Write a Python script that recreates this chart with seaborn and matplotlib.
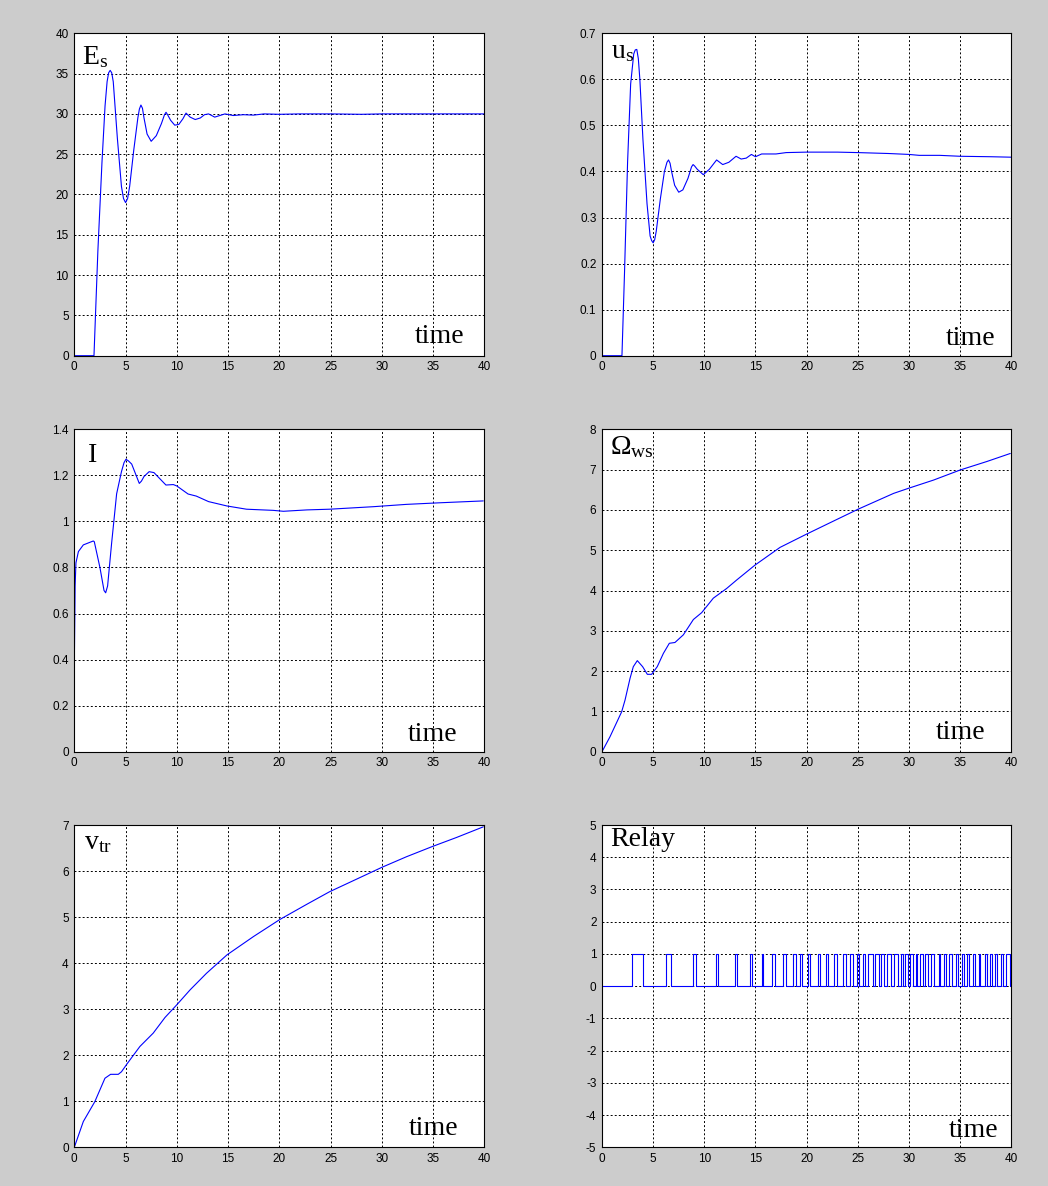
import matplotlib
matplotlib.use('Agg')
import matplotlib.pyplot as plt
import seaborn as sns
from matplotlib.ticker import FuncFormatter

# --- data (time in s) ---
es_t = [0, 1.92, 2.3, 2.7, 3.0, 3.2, 3.35, 3.5, 3.65, 3.8, 4.2, 4.6, 4.8, 5.0, 5.2, 5.4, 5.8, 6.2,
        6.35, 6.5, 6.65, 6.8, 7.1, 7.5, 8.0, 8.5, 8.8, 8.95, 9.1, 9.4, 9.8, 10.2, 10.6, 10.9, 11.3,
        11.8, 12.3, 12.7, 13.1, 13.7, 14.2, 14.7, 15.5, 16.5, 17.5, 18.5, 20, 22, 25, 28, 30, 40]
es_v = [0, 0, 13, 24, 31, 34, 35.1, 35.4, 35.1, 34, 27, 21, 19.5, 19, 19.5, 21, 25.5, 29.5,
        30.6, 31.1, 30.7, 29.5, 27.5, 26.6, 27.3, 28.8, 29.9, 30.2, 29.9, 29.2, 28.6, 28.7, 29.4,
        30.1, 29.6, 29.3, 29.5, 29.9, 30.0, 29.6, 29.8, 30.0, 29.8, 29.9, 29.85, 30, 29.95, 30, 30,
        29.95, 30, 30]

us_t = [0, 1.95, 2.2, 2.5, 2.8, 3.1, 3.25, 3.4, 3.55, 3.7, 4.0, 4.4, 4.7, 4.85, 5.0, 5.15, 5.3,
        5.7, 6.1, 6.35, 6.5, 6.65, 6.8, 7.1, 7.5, 7.9, 8.4, 8.75, 8.9, 9.05, 9.3, 9.9, 10.5, 11.2,
        11.8, 12.4, 13.1, 13.6, 14.1, 14.6, 15.0, 15.6, 17, 18, 20, 23, 25, 28, 30, 31, 33, 35, 38, 40]
us_v = [0, 0, 0.18, 0.42, 0.59, 0.655, 0.664, 0.665, 0.645, 0.6, 0.47, 0.33, 0.26, 0.25, 0.245,
        0.252, 0.27, 0.34, 0.4, 0.42, 0.425, 0.418, 0.4, 0.37, 0.355, 0.36, 0.385, 0.41, 0.415,
        0.412, 0.405, 0.393, 0.405, 0.425, 0.415, 0.42, 0.433, 0.427, 0.429, 0.437, 0.432, 0.438,
        0.438, 0.441, 0.442, 0.442, 0.441, 0.439, 0.437, 0.435, 0.435, 0.433, 0.432, 0.431]

i_t = [0, 0, 0.08, 0.16, 0.4, 0.88, 1.85, 1.95, 2.5, 2.9, 3.06, 3.25, 3.64, 4.13, 4.6, 4.85, 5.04,
       5.3, 5.6, 6.34, 6.55, 6.8, 7.3, 7.77, 8.94, 9.66, 10.0, 11.1, 11.9, 13.1, 14.9, 16.8, 19.4,
       20.4, 22.7, 24.9, 29.2, 32.4, 35.7, 39.9]
i_v = [0, 0.37, 0.72, 0.82, 0.869, 0.898, 0.915, 0.912, 0.8, 0.7, 0.69, 0.72, 0.905, 1.12, 1.216,
       1.255, 1.27, 1.262, 1.249, 1.165, 1.175, 1.195, 1.216, 1.212, 1.158, 1.16, 1.154, 1.119,
       1.11, 1.086, 1.067, 1.053, 1.048, 1.044, 1.05, 1.053, 1.064, 1.074, 1.081, 1.089]

om_t = [0, 0.78, 1.92, 2.25, 2.74, 3.06, 3.45, 3.97, 4.43, 4.85, 5.4, 6.0, 6.58, 7.13, 7.95, 8.93,
        9.74, 10.88, 12.18, 13.16, 14.95, 17.4, 20, 22.6, 25.05, 28.5, 30, 32.4, 35, 37.6, 39.9]
om_v = [0, 0.37, 0.99, 1.28, 1.82, 2.11, 2.26, 2.11, 1.92, 1.92, 2.11, 2.44, 2.69, 2.71, 2.9, 3.28,
        3.45, 3.81, 4.05, 4.26, 4.63, 5.07, 5.40, 5.72, 6.02, 6.41, 6.54, 6.74, 6.99, 7.2, 7.4]

vtr_t = [0, 0.88, 2.0, 2.99, 3.54, 4.29, 4.6, 5.17, 6.4, 7.7, 8.85, 9.98, 11.3, 12.9, 14.9, 17.5,
         20.07, 22.7, 24.9, 27.5, 30, 32.4, 34.9, 37.3, 39.9]
vtr_v = [0, 0.56, 0.99, 1.5, 1.585, 1.585, 1.64, 1.82, 2.19, 2.48, 2.82, 3.09, 3.42, 3.78, 4.18,
         4.58, 4.95, 5.28, 5.55, 5.82, 6.08, 6.31, 6.53, 6.73, 6.96]

relay_on = [2.96, 6.25, 8.86, 11.18, 13.03, 14.46, 15.64, 16.6, 17.65, 18.7, 19.38, 20.1, 21.1,
            21.85, 22.7, 23.6, 24.28, 24.9, 25.5, 26.02, 26.72, 27.3, 27.85, 28.5, 29.2, 29.61,
            30.1, 30.65, 31.1, 31.6, 32.2, 32.9, 33.4, 33.95, 34.55, 35.2, 35.7, 36.25, 36.8,
            37.4, 37.95, 38.45, 39.0, 39.5]
relay_off = [4.04, 6.74, 9.19, 11.37, 13.19, 14.69, 15.77, 16.9, 17.95, 18.95, 19.55, 20.35, 21.3,
             22.05, 22.95, 23.8, 24.5, 25.1, 25.7, 26.45, 27.05, 27.6, 28.2, 28.9, 29.45, 29.93,
             30.35, 30.8, 31.35, 31.9, 32.4, 33.05, 33.6, 34.18, 34.77, 35.35, 35.88, 36.42, 36.95,
             37.6, 38.12, 38.6, 39.22, 39.9]

# build the step signal from the switching times
relay_t = [0]
relay_v = [0]
for on, off in zip(relay_on, relay_off):
    relay_t += [on, on, off, off]
    relay_v += [0, 1, 1, 0]
relay_t.append(40)
relay_v.append(0)

sns.set_style('white')
plt.rcParams['font.family'] = ['Liberation Sans', 'DejaVu Sans']
plt.rcParams['text.color'] = 'black'
plt.rcParams['mathtext.fontset'] = 'custom'
plt.rcParams['mathtext.rm'] = 'Liberation Serif'
plt.rcParams['mathtext.it'] = 'Liberation Serif:italic'

fig = plt.figure(figsize=(10.48, 11.86), dpi=100, facecolor='#cccccc')

W, H = 1048, 1186
cols = [(74.3, 410.0), (602.0, 409.3)]
rows = [(33.3, 355.7), (429.3, 751.7), (825.0, 1147.3)]

panels = [
    (es_t, es_v, (0, 40), range(0, 41, 5), r'$\mathrm{E_s}$', (0.0195, 0.905), (0.831, 0.039)),
    (us_t, us_v, (0, 0.7), [0, 0.1, 0.2, 0.3, 0.4, 0.5, 0.6, 0.7], r'$\mathrm{u_s}$', (0.021, 0.924), (0.840, 0.033)),
    (i_t, i_v, (0, 1.4), [0, 0.2, 0.4, 0.6, 0.8, 1, 1.2, 1.4], 'I', (0.034, 0.8995), (0.813, 0.034)),
    (om_t, om_v, (0, 8), range(0, 9), r'$\mathrm{\Omega_{ws}}$', (0.02, 0.922), (0.816, 0.039)),
    (vtr_t, vtr_v, (0, 7), range(0, 8), r'$\mathrm{v_{tr}}$', (0.024, 0.925), (0.816, 0.038)),
    (relay_t, relay_v, (-5, 5), range(-5, 6), 'Relay', (0.021, 0.935), (0.848, 0.031)),
]

for k, (t, v, ylim, yticks, name, npos, tpos) in enumerate(panels):
    r, c = divmod(k, 2)
    left, width = cols[c]
    top, bottom = rows[r]
    ax = fig.add_axes([left / W, 1 - bottom / H, width / W, (bottom - top) / H])
    ax.set_facecolor('white')
    sns.lineplot(x=t, y=v, ax=ax, color='#0000ff', linewidth=0.8, estimator=None, sort=False)
    ax.set_xlim(0, 40)
    ax.set_ylim(*ylim)
    ax.set_xticks(range(0, 41, 5))
    ax.set_yticks(list(yticks))
    ax.yaxis.set_major_formatter(FuncFormatter(lambda x, p: '%g' % x))
    ax.grid(True, color='black', linestyle=(0, (2, 2.2)), linewidth=0.7)
    ax.tick_params(direction='in', length=3, width=0.6, labelsize=8.5, pad=4, colors='black')
    for s in ax.spines.values():
        s.set_color('black')
        s.set_linewidth(0.8)
    ax.text(npos[0], npos[1], name, transform=ax.transAxes, fontsize=20, color='black',
            family='Liberation Serif', va='baseline', ha='left')
    ax.text(tpos[0], tpos[1], 'time', transform=ax.transAxes, fontsize=20, color='black',
            family='Liberation Serif', va='baseline', ha='left')

fig.savefig('out.png', dpi=100, facecolor=fig.get_facecolor())
